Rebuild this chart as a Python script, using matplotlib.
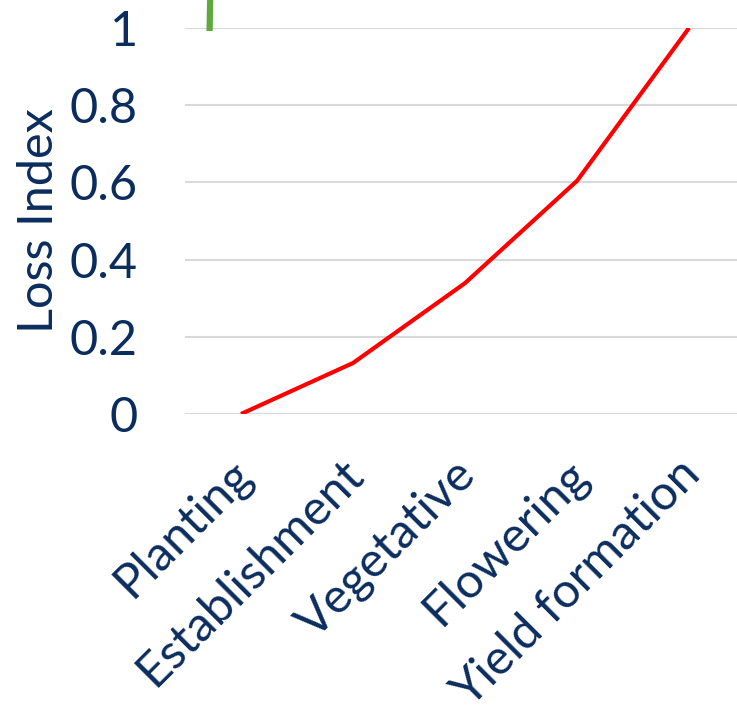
import numpy as np
import matplotlib.pyplot as plt

stages = ["Planting", "Establishment", "Vegetative", "Flowering", "Yield formation"]
loss_index = [0.0, 0.132, 0.339, 0.604, 1.0]
yticks = [0, 0.2, 0.4, 0.6, 0.8, 1]
ytick_labels = ["0", "0.2", "0.4", "0.6", "0.8", "1"]

# stub of the green curve poking in above the top gridline
green_x = [-0.28, -0.275]
green_y = [1.0, 1.075]

NAVY = "#0B2D5E"

plt.rcParams['font.family'] = ['Lato', 'DejaVu Sans']

fig = plt.figure(figsize=(7.37, 7.15), dpi=100)
ax = fig.add_axes([0.251, 0.421, 0.760, 0.540])

xpos = np.arange(len(stages))
ax.plot(xpos, loss_index, color="#FF0000", lw=3, solid_capstyle='butt', zorder=3)
ax.plot(green_x, green_y, color="#5FA83A", lw=4.5, clip_on=False, zorder=3)

ax.set_xlim(-0.5, len(stages) - 0.5)
ax.set_ylim(0, 1)
ax.set_yticks(yticks)
ax.set_yticklabels(ytick_labels)
# labels sit a little left of each category centre
ax.set_xticks(xpos - 0.11)
ax.set_xticklabels(stages, rotation=45, ha='right', va='top', rotation_mode='anchor')

ax.grid(axis='y', color="#D9D9D9", lw=1.5)
ax.set_axisbelow(True)
for s in ax.spines.values():
    s.set_visible(False)
ax.tick_params(axis='both', length=0, labelsize=35, colors=NAVY)
ax.tick_params(axis='y', pad=34)
ax.tick_params(axis='x', pad=27)

ax.set_ylabel("Loss Index", fontsize=35, color=NAVY, labelpad=6)

fig.savefig("out.png", dpi=100)
